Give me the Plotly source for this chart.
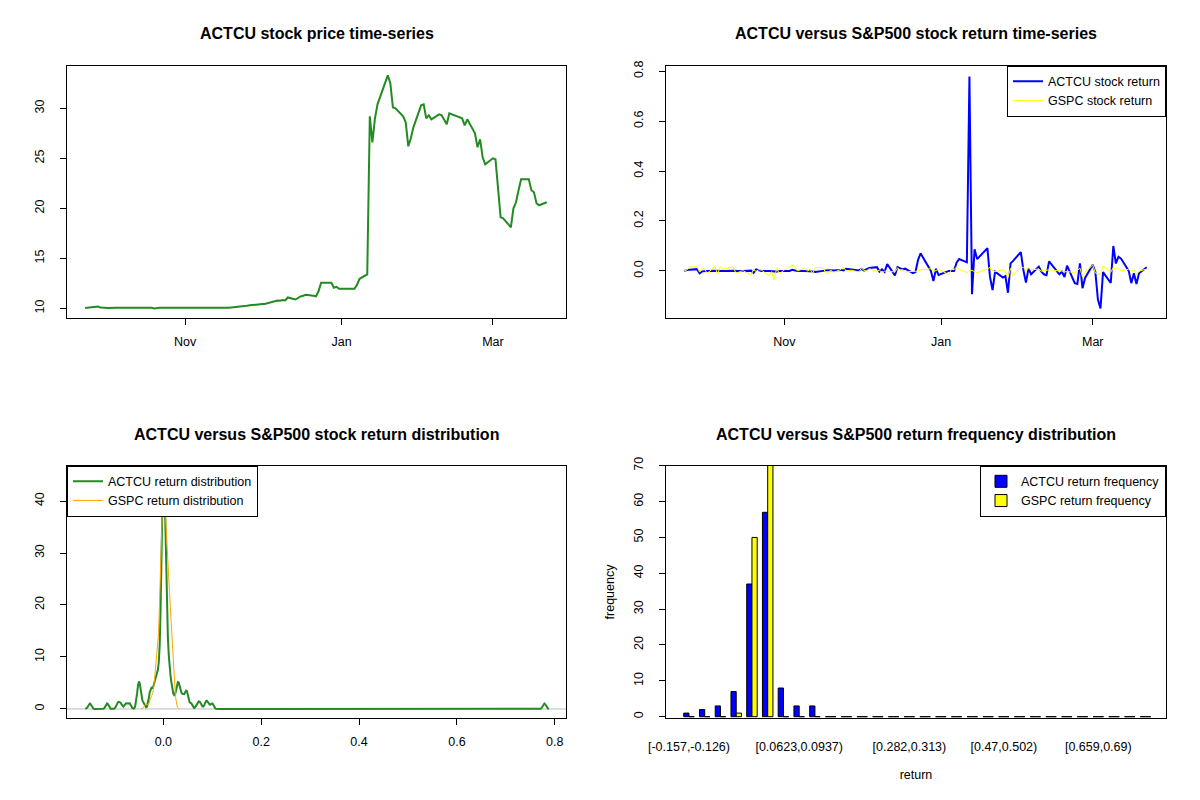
import numpy as np
import pandas as pd
import plotly.graph_objects as go

# trading days shown in the charts (NYSE calendar)
holidays = ["2020-11-26", "2020-12-25", "2021-01-01", "2021-01-18", "2021-02-15"]
dates = pd.bdate_range("2020-09-23", "2021-03-22", freq="C", holidays=holidays)

# ACTCU closing price
actcu_price = [
    # Sep
    10.02, 10.05, 10.10, 10.17, 10.07, 10.05,
    # Oct
    10.05, 10.04, 10.05, 10.05, 10.06, 10.05, 10.05, 10.06, 10.05, 10.05, 10.05,
    10.04, 10.05, 9.97, 10.03, 10.05, 10.05, 10.05, 10.04, 10.03, 10.00, 10.00,
    # Nov
    10.00, 10.00, 10.04, 10.05, 10.05, 10.05, 10.05, 10.05, 10.02, 9.98, 9.98,
    10.02, 10.05, 10.08, 10.10, 10.14, 10.16, 10.25, 10.32, 10.34,
    # Dec
    10.42, 10.43, 10.50, 10.62, 10.78, 10.75, 10.82, 10.78, 11.08, 10.88, 11.05,
    11.18, 11.25, 11.35, 11.25, 11.20, 11.70, 12.55, 12.55, 12.05, 12.15, 11.95,
    # Jan
    11.95, 11.95, 11.95, 12.35, 12.95, 13.40, 29.20, 26.60, 29.00, 30.40, 33.30,
    32.50, 30.10, 30.00, 29.20, 28.60, 26.20, 27.00, 28.10,
    # Feb
    30.30, 30.40, 29.00, 29.30, 28.90, 29.40, 29.30, 28.90, 28.40, 29.50, 29.10,
    29.00, 28.30, 28.90, 27.50, 26.10, 26.90, 25.10, 24.40,
    # Mar
    25.00, 24.90, 22.20, 19.10, 19.00, 18.10, 20.00, 20.60, 21.80, 22.90, 22.90,
    21.80, 21.60, 20.50, 20.30, 20.60,
]

# S&P500 (GSPC) daily log return
gspc_ret = [
    # Sep
    0.0, 0.0030, 0.0159, 0.0160, -0.0048, 0.0082,
    # Oct
    0.0053, -0.0096, 0.0178, -0.0141, 0.0173, 0.0080, 0.0088, 0.0163, -0.0063,
    -0.0066, -0.0015, 0.0001, -0.0164, 0.0047, -0.0022, 0.0052, 0.0034, -0.0188,
    -0.0030, -0.0359, 0.0119, -0.0122,
    # Nov
    0.0122, 0.0176, 0.0218, 0.0193, -0.0003, 0.0116, -0.0014, 0.0076, -0.0100,
    0.0135, 0.0116, -0.0048, -0.0116, 0.0039, -0.0068, 0.0056, 0.0160, -0.0016,
    0.0024, -0.0046,
    # Dec
    0.0112, 0.0018, -0.0006, 0.0088, -0.0019, 0.0028, -0.0080, -0.0013, -0.0013,
    -0.0044, 0.0128, 0.0018, 0.0057, -0.0035, -0.0039, -0.0021, 0.0007, 0.0035,
    0.0087, -0.0022, 0.0013, 0.0064,
    # Jan
    -0.0149, 0.0071, 0.0057, 0.0147, 0.0055, -0.0066, 0.0004, 0.0023, -0.0038,
    -0.0072, 0.0081, 0.0138, 0.0003, -0.0030, 0.0036, -0.0015, -0.0260, 0.0097,
    -0.0195,
    # Feb
    0.0159, 0.0138, 0.0010, 0.0108, 0.0039, 0.0074, -0.0011, -0.0003, 0.0017,
    0.0047, -0.0006, -0.0003, -0.0044, -0.0019, -0.0078, 0.0013, 0.0113, -0.0248,
    -0.0048,
    # Mar
    0.0235, -0.0081, -0.0132, -0.0135, 0.0193, -0.0054, 0.0141, 0.0060, 0.0103,
    0.0010, 0.0065, -0.0016, 0.0029, -0.0149, -0.0006, 0.0070,
]

# return frequency table (30 equal bins of ACTCU return range)
actcu_freq = [1, 2, 3, 7, 37, 57, 8, 3, 3, 0, 0, 0, 0, 0, 0,
              0, 0, 0, 0, 0, 0, 0, 0, 0, 0, 0, 0, 0, 0, 0]
gspc_freq = [0, 0, 0, 1, 50, 73, 0, 0, 0, 0, 0, 0, 0, 0, 0,
             0, 0, 0, 0, 0, 0, 0, 0, 0, 0, 0, 0, 0, 0, 0]
bin_label_pos = [0, 7, 14, 20, 26]
bin_labels = ["[-0.157,-0.126)", "[0.0623,0.0937)", "[0.282,0.313)",
              "[0.47,0.502)", "[0.659,0.69)"]

actcu_ret = np.concatenate([[0.0], np.diff(np.log(actcu_price))])


def density(v, n=512, cut=3):
    # gaussian kernel density, bandwidth like R's bw.nrd0
    v = np.asarray(v, dtype=float)
    q75, q25 = np.percentile(v, [75, 25])
    bw = 0.9 * min(v.std(ddof=1), (q75 - q25) / 1.34) * len(v) ** -0.2
    grid = np.linspace(v.min() - cut * bw, v.max() + cut * bw, n)
    d = np.exp(-0.5 * ((grid[:, None] - v[None, :]) / bw) ** 2).sum(axis=1)
    return grid, d / (len(v) * bw * np.sqrt(2 * np.pi))


ax, ay = density(actcu_ret)
gx, gy = density(gspc_ret)

FONT = "Liberation Sans, Arial, sans-serif"
FS = 12.5
W, H = 1200, 800
OFF = 8  # page body margin of the html file


def px(x):
    return (x - OFF) / W


def py(y):
    return 1 - (y - OFF) / H


fig = go.Figure()

fig.add_trace(go.Scatter(x=dates, y=actcu_price, mode="lines",
                         line=dict(color="#228B22", width=2),
                         showlegend=False, xaxis="x", yaxis="y"))

fig.add_trace(go.Scatter(x=dates, y=actcu_ret, mode="lines",
                         line=dict(color="#0000FF", width=2),
                         name="ACTCU stock return", legend="legend",
                         xaxis="x2", yaxis="y2"))
fig.add_trace(go.Scatter(x=dates, y=gspc_ret, mode="lines",
                         line=dict(color="#FFFF00", width=1),
                         name="GSPC stock return", legend="legend",
                         xaxis="x2", yaxis="y2"))

fig.add_trace(go.Scatter(x=ax, y=ay, mode="lines",
                         line=dict(color="#228B22", width=2),
                         name="ACTCU return distribution", legend="legend2",
                         xaxis="x3", yaxis="y3"))
fig.add_trace(go.Scatter(x=gx, y=gy, mode="lines",
                         line=dict(color="#FFA500", width=1),
                         name="GSPC return distribution", legend="legend2",
                         xaxis="x3", yaxis="y3"))

bins = np.arange(len(actcu_freq))
fig.add_trace(go.Bar(x=bins, y=actcu_freq, name="ACTCU return frequency",
                     marker=dict(color="#0000FF", line=dict(color="black", width=1)),
                     legend="legend3", xaxis="x4", yaxis="y4"))
fig.add_trace(go.Bar(x=bins, y=gspc_freq, name="GSPC return frequency",
                     marker=dict(color="#FFFF00", line=dict(color="black", width=1)),
                     legend="legend3", xaxis="x4", yaxis="y4"))

left = [67, 666]
right = [566, 1166]
tops = [65.7, 465.7]
bots = [318.3, 718.3]

base_axis = dict(showline=True, linecolor="black", linewidth=1, mirror=True,
                 showgrid=False, zeroline=False, ticks="outside", ticklen=6,
                 tickcolor="black", automargin=False,
                 tickfont=dict(family=FONT, size=FS, color="black"))


def xa(col, row, **kw):
    d = dict(base_axis, domain=[px(left[col]), px(right[col])],
             anchor=kw.pop("anchor"), ticklabelstandoff=6)
    d.update(kw)
    return d


def ya(col, row, **kw):
    d = dict(base_axis, domain=[py(bots[row]), py(tops[row])],
             anchor=kw.pop("anchor"), tickangle=-90, ticklabelstandoff=11)
    d.update(kw)
    return d


date_range = ["2020-09-15 22:00", "2021-03-29 12:00"]
month_ticks = ["2020-11-01", "2021-01-01", "2021-03-01"]
month_text = ["Nov", "Jan", "Mar"]

legend_style = dict(bgcolor="white", bordercolor="black", borderwidth=1,
                    font=dict(family=FONT, size=FS), itemwidth=30, tracegroupgap=0)

fig.update_layout(
    width=W, height=H, margin=dict(l=0, r=0, t=0, b=0),
    paper_bgcolor="white", plot_bgcolor="white",
    font=dict(family=FONT, size=FS, color="black"),
    barmode="group", bargap=1 / 3, bargroupgap=0,
    xaxis=xa(0, 0, anchor="y", type="date", range=date_range,
             tickvals=month_ticks, ticktext=month_text),
    yaxis=ya(0, 0, anchor="x", range=[9.0, 34.26], tickvals=[10, 15, 20, 25, 30]),
    xaxis2=xa(1, 0, anchor="y2", type="date", range=date_range,
              tickvals=month_ticks, ticktext=month_text),
    yaxis2=ya(1, 0, anchor="x2", range=[-0.19, 0.822],
              tickvals=[0, 0.2, 0.4, 0.6, 0.8],
              ticktext=["0.0", "0.2", "0.4", "0.6", "0.8"]),
    xaxis3=xa(0, 1, anchor="y3", range=[-0.197, 0.823],
              tickvals=[0, 0.2, 0.4, 0.6, 0.8],
              ticktext=["0.0", "0.2", "0.4", "0.6", "0.8"]),
    yaxis3=ya(0, 1, anchor="x3", range=[-1.8, 46.8], tickvals=[0, 10, 20, 30, 40]),
    xaxis4=xa(1, 1, anchor="y4", range=[-1.46, 30.3], ticks="",
              tickvals=bin_label_pos, ticktext=bin_labels, ticklabelstandoff=17,
              title=dict(text="return", font=dict(family=FONT, size=FS), standoff=16)),
    yaxis4=ya(1, 1, anchor="x4", range=[-0.45, 70],
              tickvals=[0, 10, 20, 30, 40, 50, 60, 70],
              title=dict(text="frequency", font=dict(family=FONT, size=FS), standoff=14)),
    legend=dict(legend_style, x=px(1166), y=py(65.7), xanchor="right", yanchor="top"),
    legend2=dict(legend_style, x=px(67), y=py(465.7), xanchor="left", yanchor="top"),
    legend3=dict(legend_style, x=px(1166), y=py(465.7), xanchor="right", yanchor="top"),
)

# zero line of the density plot
fig.add_shape(type="line", xref="x3 domain", yref="y3", x0=0, x1=1, y0=0, y1=0,
              line=dict(color="#BEBEBE", width=1), layer="below")

titles = ["ACTCU stock price time-series",
          "ACTCU versus S&P500 stock return time-series",
          "ACTCU versus S&P500 stock return distribution",
          "ACTCU versus S&P500 return frequency distribution"]
for i, t in enumerate(titles):
    col, row = i % 2, i // 2
    fig.add_annotation(text="<b>" + t + "</b>", xref="paper", yref="paper",
                       x=px((left[col] + right[col]) / 2), y=py(34 + 400 * row),
                       showarrow=False, xanchor="center", yanchor="middle",
                       font=dict(family=FONT, size=16, color="black"))

fig.write_html("out.html")
